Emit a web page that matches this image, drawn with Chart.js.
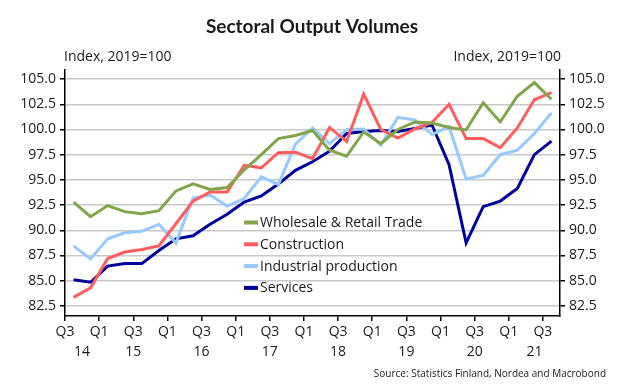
<!DOCTYPE html>
<html>
<head>
<meta charset="utf-8">
<script src="https://cdn.jsdelivr.net/npm/chart.js@4.4.1/dist/chart.umd.min.js"></script>
<style>
  html, body { margin: 0; padding: 0; background: #fff; }
  #wrap { width: 624px; height: 387px; }
</style>
</head>
<body>
<div id="wrap"><canvas id="canvas"></canvas></div>
<script>
'use strict';

// Quarters Q3 2014 .. Q3 2021
const quarters = [
    '2014Q3', '2014Q4',
    '2015Q1', '2015Q2', '2015Q3', '2015Q4',
    '2016Q1', '2016Q2', '2016Q3', '2016Q4',
    '2017Q1', '2017Q2', '2017Q3', '2017Q4',
    '2018Q1', '2018Q2', '2018Q3', '2018Q4',
    '2019Q1', '2019Q2', '2019Q3', '2019Q4',
    '2020Q1', '2020Q2', '2020Q3', '2020Q4',
    '2021Q1', '2021Q2', '2021Q3'
];

const wholesale = [92.8, 91.35, 92.45, 91.85, 91.65, 91.95, 93.9, 94.6, 94.05, 94.25,
    96.0, 97.5, 99.1, 99.4, 99.9, 97.95, 97.35, 99.75, 98.6, 100.0,
    100.75, 100.65, 100.2, 99.95, 102.65, 100.75, 103.3, 104.65, 103.0];
const construction = [83.35, 84.3, 87.2, 87.85, 88.1, 88.45, 90.65, 92.9, 93.8, 93.8,
    96.45, 96.2, 97.7, 97.75, 97.1, 100.2, 98.8, 103.5, 100.0, 99.15,
    100.05, 100.7, 102.5, 99.1, 99.1, 98.2, 100.15, 102.95, 103.65];
const industrial = [88.45, 87.15, 89.15, 89.75, 89.9, 90.6, 88.75, 93.2, 93.5, 92.4,
    93.15, 95.3, 94.55, 98.55, 100.15, 98.6, 100.0, 100.05, 98.45, 101.2,
    100.95, 99.5, 100.3, 95.1, 95.45, 97.5, 97.95, 99.6, 101.65];
const services = [85.1, 84.85, 86.45, 86.7, 86.7, 88.0, 89.15, 89.45, 90.6, 91.6,
    92.8, 93.4, 94.6, 95.95, 96.8, 97.85, 99.6, 99.8, 99.9, 99.8,
    100.1, 100.45, 96.5, 88.75, 92.35, 92.9, 94.15, 97.5, 98.85];

const yTicks = [82.5, 85.0, 87.5, 90.0, 92.5, 95.0, 97.5, 100.0, 102.5, 105.0];

const titleText = 'Sectoral Output Volumes';
const unitText = 'Index, 2019=100';
const sourceText = 'Source: Statistics Finland, Nordea and Macrobond';

const seriesInfo = [
    { label: 'Wholesale & Retail Trade', values: wholesale, color: 'rgb(128,165,74)' },
    { label: 'Construction', values: construction, color: 'rgb(255,92,92)' },
    { label: 'Industrial production', values: industrial, color: 'rgb(150,201,255)' },
    { label: 'Services', values: services, color: 'rgb(0,0,160)' }
];

// year label positions: centre of each year's span of quarters
const years = [];
quarters.forEach((q, i) => {
    const y = q.slice(0, 4);
    let last = years[years.length - 1];
    if (!last || last.year !== y) {
        last = { year: y, first: i, last: i };
        years.push(last);
    }
    last.last = i;
});

const FONT = "'Open Sans', 'Noto Sans', sans-serif";
const INK = '#1a1a1a';

const overlay = {
    id: 'overlay',
    afterDraw(chart) {
        const ctx = chart.ctx;
        const area = chart.chartArea;
        ctx.save();
        ctx.fillStyle = INK;
        ctx.textBaseline = 'middle';

        ctx.font = "bold 19px Lato, sans-serif";
        ctx.textAlign = 'center';
        ctx.fillText(titleText, chart.width / 2, 27);

        ctx.font = '14px ' + FONT;
        ctx.textAlign = 'left';
        ctx.fillText(unitText, area.left - 1, area.top - 13);
        ctx.textAlign = 'right';
        ctx.fillText(unitText, area.right + 1, area.top - 13);

        // legend inside plot
        ctx.textAlign = 'left';
        seriesInfo.forEach((s, i) => {
            const y = 222.5 + i * 21.8;
            ctx.strokeStyle = s.color;
            ctx.lineWidth = 4;
            ctx.beginPath();
            ctx.moveTo(244, y);
            ctx.lineTo(258, y);
            ctx.stroke();
            ctx.fillStyle = INK;
            ctx.fillText(s.label, 260, y + 0.5);
        });

        ctx.font = '10px ' + FONT;
        ctx.textAlign = 'right';
        ctx.fillText(sourceText, 606, 374);
        ctx.restore();
    }
};

const ctx = document.getElementById('canvas').getContext('2d');

new Chart(ctx, {
    type: 'line',
    data: {
        datasets: seriesInfo.map(s => ({
            label: s.label,
            data: s.values.map((v, i) => ({ x: i + 0.5, y: v })),
            borderColor: s.color,
            backgroundColor: s.color,
            borderWidth: 3,
            pointRadius: 0,
            tension: 0,
            fill: false
        }))
    },
    options: {
        responsive: true,
        maintainAspectRatio: false,
        animation: false,
        layout: { padding: { top: 70, bottom: 23, left: 0, right: 0 } },
        plugins: {
            legend: { display: false },
            title: { display: false },
            tooltip: { enabled: false }
        },
        scales: {
            x: {
                type: 'linear',
                position: 'bottom',
                min: 0,
                max: quarters.length,
                afterBuildTicks: scale => {
                    scale.ticks = quarters.map((q, i) => i).filter(i => i % 2 === 0).map(i => ({ value: i }));
                },
                afterFit: scale => { scale.height = 26; },
                ticks: {
                    autoSkip: false,
                    maxRotation: 0,
                    padding: 3,
                    color: INK,
                    font: { family: FONT, size: 14 },
                    callback: value => quarters[value] ? quarters[value].slice(4) : ''
                },
                grid: { drawOnChartArea: false, tickLength: 5, tickColor: '#000', lineWidth: 1.5 },
                border: { color: '#000', width: 1.5 }
            },
            x2: {
                type: 'linear',
                position: 'bottom',
                min: 0,
                max: quarters.length,
                afterBuildTicks: scale => {
                    scale.ticks = years.map(y => ({ value: (y.first + y.last + 1) / 2 }));
                },
                afterFit: scale => { scale.height = 22; },
                ticks: {
                    autoSkip: false,
                    maxRotation: 0,
                    padding: 2,
                    color: INK,
                    font: { family: FONT, size: 14 },
                    callback: (value, index) => years[index].year.slice(2)
                },
                grid: { display: false, drawTicks: false },
                border: { display: false }
            },
            y: {
                type: 'linear',
                position: 'left',
                min: 81.5,
                max: 105.9,
                afterBuildTicks: scale => { scale.ticks = yTicks.map(v => ({ value: v })); },
                afterFit: scale => { scale.width = 65; },
                ticks: {
                    padding: 4,
                    color: INK,
                    font: { family: FONT, size: 14 },
                    callback: value => value.toFixed(1)
                },
                grid: { color: '#c8c8c8', lineWidth: 1.5, tickLength: 5, tickColor: '#000' },
                border: { color: '#000', width: 1.5 }
            },
            y2: {
                type: 'linear',
                position: 'right',
                min: 81.5,
                max: 105.9,
                afterBuildTicks: scale => { scale.ticks = yTicks.map(v => ({ value: v })); },
                afterFit: scale => { scale.width = 64; },
                ticks: {
                    padding: 4,
                    color: INK,
                    font: { family: FONT, size: 14 },
                    callback: value => value.toFixed(1)
                },
                grid: { drawOnChartArea: false, tickLength: 5, tickColor: '#000', lineWidth: 1.5 },
                border: { color: '#000', width: 1.5 }
            }
        }
    },
    plugins: [overlay]
});
</script>
</body>
</html>
